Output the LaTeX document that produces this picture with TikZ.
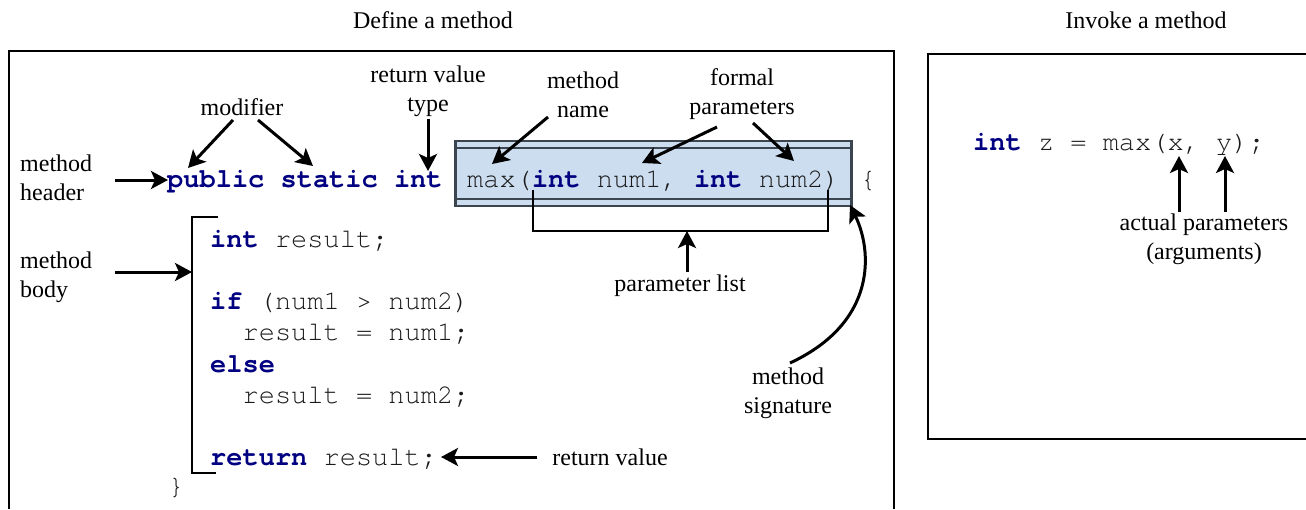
\documentclass[tikz,border=0pt]{standalone}
\usepackage{fontspec}
\setmainfont{Liberation Serif}
\setmonofont{TeX Gyre Cursor}
\usetikzlibrary{arrows.meta}
\definecolor{kwblue}{HTML}{000080}
\definecolor{codegray}{HTML}{1A1A1A}
\definecolor{sigfill}{HTML}{CCDDF0}
\definecolor{sigline}{HTML}{3A4550}
\newcommand\kwd[1]{\textbf{\textcolor{kwblue}{#1}}}
\tikzset{
  lbl/.style={inner sep=0pt, align=center, font=\fontsize{24}{29}\selectfont},
  lblL/.style={inner sep=0pt, align=left, anchor=west, font=\fontsize{24}{29}\selectfont},
  codeln/.style={inner sep=0pt, anchor=base west, text=codegray, font=\fontsize{27}{31}\ttfamily},
  arr/.style={line width=3pt, -{Stealth[length=17pt,width=18pt,inset=4pt]}},
  frame/.style={line width=2.5pt},
}
\begin{document}
\begin{tikzpicture}[x=1pt,y=-1pt]
\useasboundingbox (0,0) rectangle (1306,509);
% titles
\node[lbl] (tdef) at (433,20) {Define a method};
\node[lbl] (tinv) at (1146,20) {Invoke a method};
% frames
\draw[frame] (9,509) -- (9,51) -- (894,51) -- (894,509);
\draw[frame] (1306,54) -- (928,54) -- (928,439) -- (1306,439);
% signature box
\draw[sigline, line width=1.2pt, fill=sigfill] (455,141) rectangle (852,206);
\draw[sigline, line width=1.2pt] (455,148) -- (852,148) (455,199) -- (852,199);
\draw[sigline, line width=2pt] (456,141) -- (456,206) (851,141) -- (851,206);
% header code
\node[codeln] (hdr) at (167,187) {\kwd{public static int}};
\node[codeln] (sig) at (467,187) {max(\kwd{int} num1, \kwd{int} num2)};
\node[codeln] (ob) at (860,187) {\{};
% body code
\node[codeln] (l1) at (210,247) {\kwd{int} result;};
\node[codeln] (l2) at (210,309.6) {\kwd{if} (num1 > num2)};
\node[codeln] (l3) at (242.4,340.9) {result = num1;};
\node[codeln] (l4) at (210,372.2) {\kwd{else}};
\node[codeln] (l5) at (242.4,403.5) {result = num2;};
\node[codeln] (l6) at (210,465.5) {\kwd{return} result;};
\node[codeln] (cb) at (168,494) {\}};
% body bracket
\draw[line width=2pt] (218,217) -- (192,217) -- (192,473) -- (216,473);
% parameter list bracket
\draw[line width=1.5pt] (533,190) -- (533,231) -- (828,231) -- (828,190);
% invoke code
\node[codeln] (inv) at (973,150) {\kwd{int} z = max(x, y);};
% labels
\node[lblL] (mh) at (20,178) {method\\header};
\node[lblL] (mb) at (20,277) {method\\body};
\node[lbl] (mod) at (242,107) {modifier};
\node[lbl] (rvt) at (428,91) {return value\\type};
\node[lbl] (mn) at (583,95) {method\\name};
\node[lbl] (fp) at (742,94) {formal\\parameters};
\node[lbl] (pl) at (680,286) {parameter list};
\node[lbl] (ms) at (788,393) {method\\signature};
\node[lbl] (rv) at (610,457) {return value};
\node[lbl] (ap) at (1204,239) {actual parameters\\(arguments)};
% arrow coordinates
\coordinate (mhS) at (115,180); \coordinate (mhE) at (168,180);
\coordinate (mbS) at (115,272); \coordinate (mbE) at (192,272);
\coordinate (m1S) at (233,120); \coordinate (m1E) at (188,168);
\coordinate (m2S) at (258,120); \coordinate (m2E) at (313,166);
\coordinate (rtS) at (428,119); \coordinate (rtE) at (428,171);
\coordinate (mnS) at (548,117); \coordinate (mnE) at (492,164);
\coordinate (f1S) at (717,127); \coordinate (f1E) at (642,163);
\coordinate (f2S) at (753,123); \coordinate (f2E) at (794,161);
\coordinate (plS) at (687,272); \coordinate (plE) at (687,231);
\coordinate (msS) at (790,363); \coordinate (msE) at (850,205);
\coordinate (rvS) at (537,457); \coordinate (rvE) at (441,457);
\coordinate (a1S) at (1179,212); \coordinate (a1E) at (1179,156);
\coordinate (a2S) at (1225,212); \coordinate (a2E) at (1225,156);
% arrows
\draw[arr] (mhS) -- (mhE);
\draw[arr] (mbS) -- (mbE);
\draw[arr] (m1S) -- (m1E);
\draw[arr] (m2S) -- (m2E);
\draw[arr] (rtS) -- (rtE);
\draw[arr] (mnS) -- (mnE);
\draw[arr] (f1S) -- (f1E);
\draw[arr] (f2S) -- (f2E);
\draw[arr] (plS) -- (plE);
\draw[arr] (msS) .. controls (878,322) and (872,250) .. (msE);
\draw[arr] (rvS) -- (rvE);
\draw[arr] (a1S) -- (a1E);
\draw[arr] (a2S) -- (a2E);
\end{tikzpicture}
\end{document}
